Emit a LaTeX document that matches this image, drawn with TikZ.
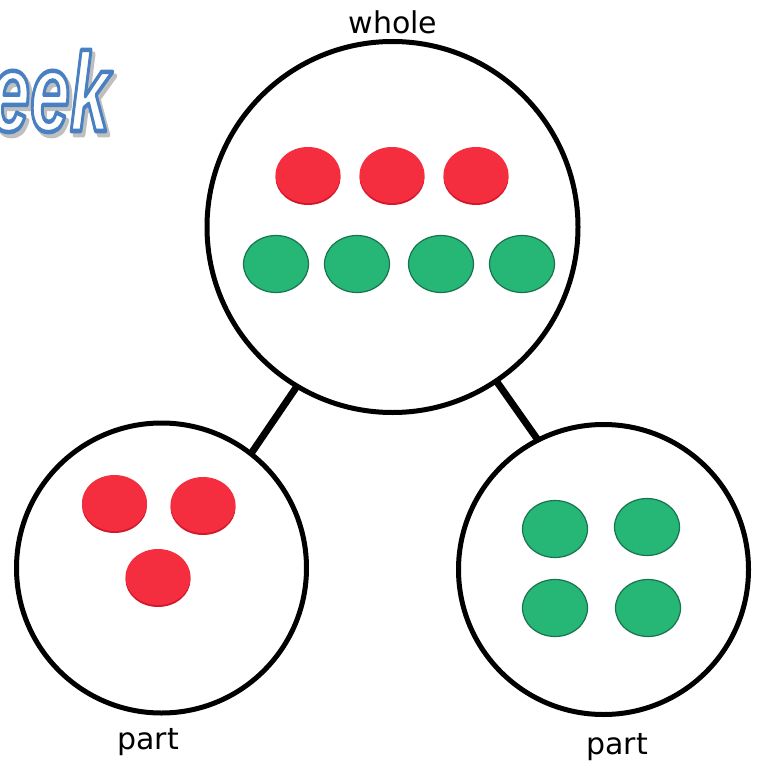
\documentclass[tikz,border=0pt]{standalone}
\usepackage{fontspec}
\usepackage{graphicx}
\setmainfont{DejaVu Sans}
\newfontfamily\eekfont{Liberation Sans}
\usetikzlibrary{shapes.geometric}
\definecolor{cred}{RGB}{244,46,62}
\definecolor{credd}{RGB}{212,24,44}
\definecolor{cgreen}{RGB}{38,182,118}
\definecolor{cgreend}{RGB}{24,116,78}
\newcommand\redctr[3]{%
  \fill[credd] (#2,#3-2.5) ellipse[x radius=32.5, y radius=27.5];
  \node[redc] (#1) at (#2,#3) {};}
% outlined text: fill colour from \color, stroke colour/width by literal
\newcommand\outlined[3]{{\color{#1}\special{pdf:literal 2 Tr 4.5 w 1 j #2 RG}#3\special{pdf:literal 0 Tr}}}
\begin{document}
\begin{tikzpicture}[x=1pt,y=1pt,
  bigc/.style={circle, draw=black, line width=5pt, inner sep=0pt, minimum size=#1},
  link/.style={line width=7pt, shorten <=-2pt, shorten >=-2pt},
  lbl/.style={font=\fontsize{30}{30}\selectfont, inner sep=0pt, anchor=base},
  redc/.style={ellipse, inner sep=0pt, minimum width=65pt, minimum height=56pt, fill=cred},
  greenc/.style={ellipse, inner sep=0pt, minimum width=65pt, minimum height=57pt, fill=cgreen, draw=cgreend, line width=1.2pt},
  eektext/.style={anchor=base east, inner sep=0pt, font=\eekfont\bfseries\itshape\fontsize{112}{112}\selectfont}]
\useasboundingbox (0,0) rectangle (763,-765);
\fill[white] (0,0) rectangle (763,-765);

% WordArt fragment
\node[eektext] (eeks) at (113,-135) {\scalebox{0.64}[1]{\outlined{lightgray}{0.75 0.75 0.75}{eek}}};
\node[eektext] (eek) at (110,-131) {\scalebox{0.64}[1]{\outlined{white}{0.282 0.502 0.761}{eek}}};

% circles
\node[bigc=371pt] (whole) at (392.5,-227) {};
\node[bigc=290pt] (partL) at (161.5,-568) {};
\node[bigc=290pt] (partR) at (603.5,-569.5) {};

% connectors
\draw[link] (whole.-121.5) -- (partL.52.2);
\draw[link] (whole.-56.1) -- (partR.117.5);

% labels
\node[lbl] (lw) at (393,-34) {whole};
\node[lbl] (lpl) at (148,-749) {part};
\node[lbl] (lpr) at (617,-754) {part};

% counters in whole
\redctr{w1}{308}{-175}
\redctr{w2}{392}{-175}
\redctr{w3}{476}{-175}
\node[greenc] (g1) at (276,-264) {};
\node[greenc] (g2) at (357,-264) {};
\node[greenc] (g3) at (441,-264) {};
\node[greenc] (g4) at (522,-264) {};

% left part
\redctr{l1}{114.5}{-503}
\redctr{l2}{203}{-505}
\redctr{l3}{158}{-577}

% right part
\node[greenc] (r1) at (555,-529) {};
\node[greenc] (r2) at (647,-527) {};
\node[greenc] (r3) at (555,-608) {};
\node[greenc] (r4) at (648,-608) {};
\end{tikzpicture}
\end{document}
